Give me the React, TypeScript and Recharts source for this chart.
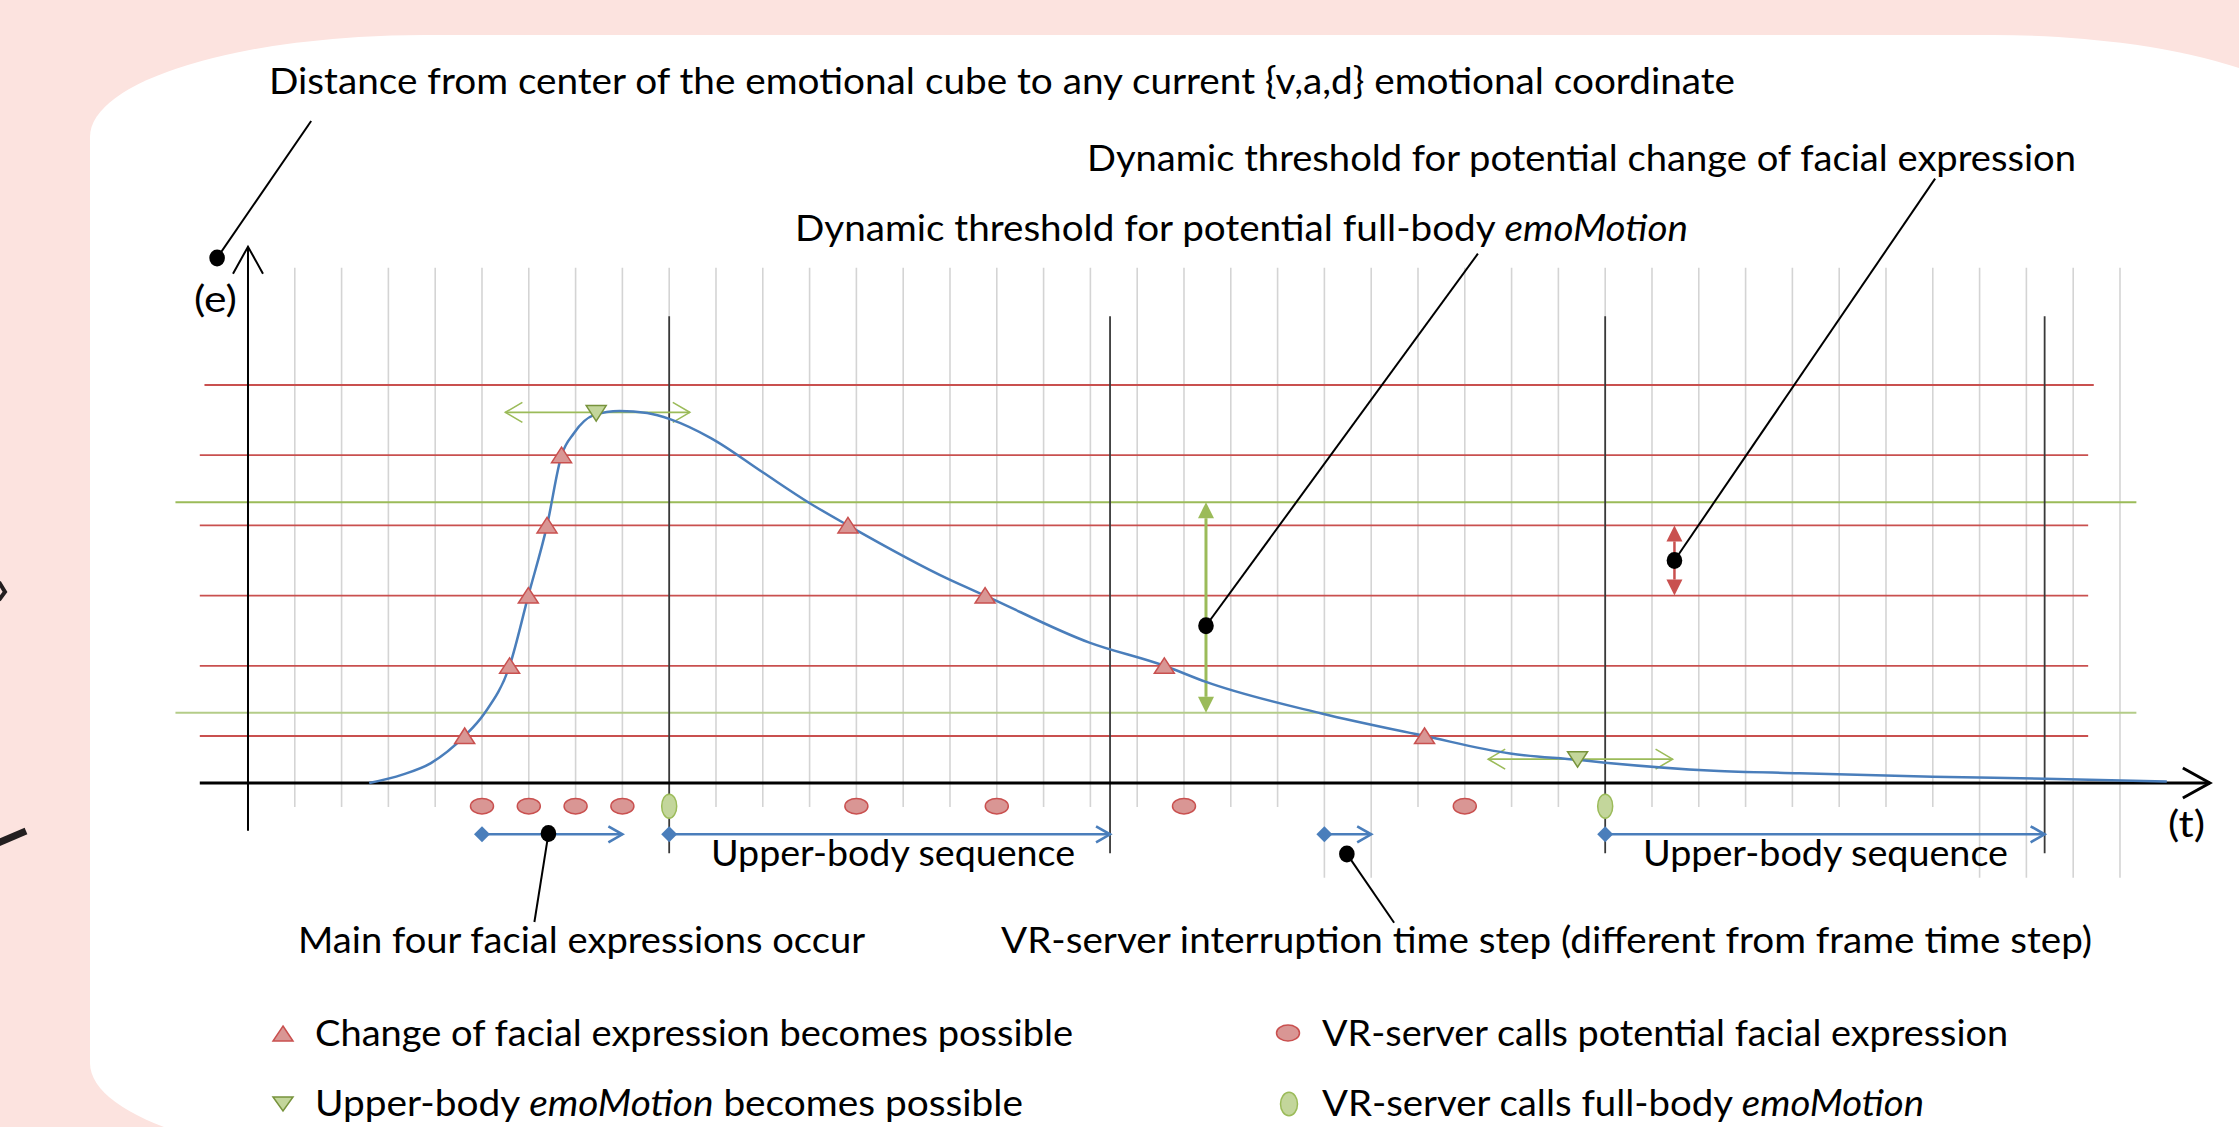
import React from 'react'
import { ComposedChart, XAxis, YAxis, Line, Scatter, ReferenceLine } from 'recharts'

const W = 2239
const H = 1127

// t = frame time step, e = distance from the centre of the emotional cube
const T_DOMAIN: [number, number] = [-5.299, 42.543]
const E_DOMAIN: [number, number] = [-4.9, 11.154]

const frameSteps = [1, 2, 3, 4, 5, 6, 7, 8, 9, 10, 11, 12, 13, 14, 15, 16, 17, 18, 19, 20,
  21, 22, 23, 24, 25, 26, 27, 28, 29, 30, 31, 32, 33, 34, 35, 36, 37, 38, 39, 40]
const longFrameSteps = [23, 24, 37, 38, 39, 40]
const sequenceBounds = [9, 18.42, 29, 38.39]
const faceThresholds = [0.67, 1.67, 2.67, 3.67, 4.67, 5.67]
const bodyThresholds = [1, 4]

const emotionCurve = [
  { t: 2.59, e: 0 }, { t: 3.3, e: 0.12 }, { t: 3.9, e: 0.28 }, { t: 4.63, e: 0.67 },
  { t: 5.05, e: 0.99 }, { t: 5.59, e: 1.67 }, { t: 5.99, e: 2.67 }, { t: 6.39, e: 3.67 },
  { t: 6.7, e: 4.67 }, { t: 6.96, e: 4.98 }, { t: 7.39, e: 5.24 }, { t: 7.94, e: 5.3 },
  { t: 8.53, e: 5.27 }, { t: 9.03, e: 5.18 }, { t: 9.9, e: 4.91 }, { t: 10.99, e: 4.43 },
  { t: 11.97, e: 4.0 }, { t: 12.82, e: 3.67 }, { t: 14.98, e: 2.9 }, { t: 15.75, e: 2.67 },
  { t: 17.98, e: 2.0 }, { t: 19.58, e: 1.67 }, { t: 20.47, e: 1.44 }, { t: 22.94, e: 0.99 },
  { t: 25.14, e: 0.67 }, { t: 26.97, e: 0.42 }, { t: 28.41, e: 0.33 }, { t: 29.0, e: 0.29 },
  { t: 31.32, e: 0.175 }, { t: 33.14, e: 0.14 }, { t: 36, e: 0.09 }, { t: 38.4, e: 0.06 },
  { t: 41.0, e: 0.02 },
]

const faceChanges = [
  { t: 4.63, e: 0.67 }, { t: 5.59, e: 1.67 }, { t: 5.99, e: 2.67 }, { t: 6.39, e: 3.67 },
  { t: 6.7, e: 4.67 }, { t: 12.82, e: 3.67 }, { t: 15.75, e: 2.67 }, { t: 19.58, e: 1.67 },
  { t: 25.14, e: 0.67 },
]
const bodyChanges = [{ t: 7.44, e: 5.27 }, { t: 28.41, e: 0.34 }]

const CALL_ROW = -0.33
const SEQ_ROW = -0.73
const faceCalls = [5, 6, 7, 8, 13, 16, 20, 26].map((t) => ({ t, e: CALL_ROW }))
const bodyCalls = [9, 29].map((t) => ({ t, e: CALL_ROW }))
const sequences = [[5, 8], [9, 18.42], [23, 24], [29, 38.39]]
const bodyWindows = [
  { from: 5.5, to: 9.44, e: 5.28 },
  { from: 26.5, to: 30.44, e: 0.34 },
]
const bodyRange = { t: 20.47, from: 1, to: 4 }
const faceRange = { t: 30.48, from: 2.67, to: 3.67 }

const callouts = [
  { dot: { t: -0.66, e: 7.48 }, end: { t: 1.35, e: 9.43 } },
  { dot: { t: 20.47, e: 2.24 }, end: { t: 26.28, e: 7.54 } },
  { dot: { t: 30.48, e: 3.17 }, end: { t: 36.05, e: 8.61 } },
  { dot: { t: 6.42, e: -0.72 }, end: { t: 6.12, e: -1.98 } },
  { dot: { t: 23.48, e: -1.01 }, end: { t: 24.49, e: -1.99 } },
]
const calloutDots = callouts.map((c) => c.dot)

const RED = '#c9504f'
const RED_FILL = '#d99694'
const GREEN = '#9bbb59'
const GREEN_PALE = '#b4cc88'
const GREEN_FILL = '#c3d69b'
const GREEN_DARK = '#77933c'
const BLUE = '#4a7ebb'
const GRID = '#d4d4d4'

type Head = 'none' | 'open' | 'solid' | 'diamond'
type HeadSpec = { kind: Head; len: number; half: number }

function head(x: number, y: number, ang: number, h: HeadSpec, color: string, sw: number) {
  const c = Math.cos(ang)
  const s = Math.sin(ang)
  if (h.kind === 'diamond') {
    const pts = [
      [x + (h.len / 2) * c, y + (h.len / 2) * s],
      [x - h.half * s, y + h.half * c],
      [x - (h.len / 2) * c, y - (h.len / 2) * s],
      [x + h.half * s, y - h.half * c],
    ]
    return <polygon points={pts.map((p) => p.join(',')).join(' ')} fill={color} />
  }
  const bx = x - h.len * c
  const by = y - h.len * s
  const p1 = `${bx - h.half * s},${by + h.half * c}`
  const p2 = `${bx + h.half * s},${by - h.half * c}`
  if (h.kind === 'open') {
    return <polyline points={`${p1} ${x},${y} ${p2}`} fill="none" stroke={color} strokeWidth={sw} />
  }
  if (h.kind === 'solid') return <polygon points={`${p1} ${x},${y} ${p2}`} fill={color} />
  return null
}

const NONE: HeadSpec = { kind: 'none', len: 0, half: 0 }

const arrowShape = (color: string, sw: number, start: HeadSpec, end: HeadSpec) => (p: any) => {
  const { x1, y1, x2, y2 } = p
  const ang = Math.atan2(y2 - y1, x2 - x1)
  const c = Math.cos(ang)
  const s = Math.sin(ang)
  const cutS = start.kind === 'solid' ? start.len : 0
  const cutE = end.kind === 'solid' ? end.len : 0
  return (
    <g>
      <line x1={x1 + cutS * c} y1={y1 + cutS * s} x2={x2 - cutE * c} y2={y2 - cutE * s}
        stroke={color} strokeWidth={sw} />
      {start.kind !== 'none' && head(x1, y1, ang + Math.PI, start, color, sw)}
      {end.kind !== 'none' && head(x2, y2, ang, end, color, sw)}
    </g>
  )
}

const plainLine = (color: string, sw: number) => arrowShape(color, sw, NONE, NONE)

const triUp = (p: any) => (
  <polygon points={`${p.cx},${p.cy - 8} ${p.cx + 10},${p.cy + 7.5} ${p.cx - 10},${p.cy + 7.5}`}
    fill={RED_FILL} stroke={RED} strokeWidth={1.5} />
)
const triDown = (p: any) => (
  <polygon points={`${p.cx - 10},${p.cy - 7.5} ${p.cx + 10},${p.cy - 7.5} ${p.cx},${p.cy + 8}`}
    fill={GREEN_FILL} stroke={GREEN_DARK} strokeWidth={1.5} />
)
const ovalFace = (p: any) => (
  <ellipse cx={p.cx} cy={p.cy} rx={11.5} ry={7.8} fill={RED_FILL} stroke={RED} strokeWidth={1.5} />
)
const ovalBody = (p: any) => (
  <ellipse cx={p.cx} cy={p.cy} rx={7.5} ry={12} fill={GREEN_FILL} stroke={GREEN} strokeWidth={1.5} />
)
const blackDot = (p: any) => <ellipse cx={p.cx} cy={p.cy} rx={7.8} ry={8.5} fill="#000" />

const FONT = 'Lato, "Open Sans", sans-serif'

function Txt({ x, y, len, children }: { x: number; y: number; len: number; children: React.ReactNode }) {
  return (
    <text x={x} y={y} textLength={len} lengthAdjust="spacingAndGlyphs" fontSize={36}
      fontFamily={FONT} fill="#000">
      {children}
    </text>
  )
}

function Overlay() {
  return (
    <svg width={W} height={H} style={{ position: 'absolute', left: 0, top: 0, pointerEvents: 'none' }}>
      <Txt x={269} y={94} len={1466}>Distance from center of the emotional cube to any current {'{v,a,d}'} emotional coordinate</Txt>
      <Txt x={1087} y={171} len={989}>Dynamic threshold for potential change of facial expression</Txt>
      <Txt x={795} y={241} len={893}>Dynamic threshold for potential full-body <tspan fontStyle="italic">emoMotion</tspan></Txt>
      <Txt x={194} y={312} len={43}>(e)</Txt>
      <Txt x={2168} y={837} len={37}>(t)</Txt>
      <Txt x={711} y={866} len={364}>Upper-body sequence</Txt>
      <Txt x={1643} y={866} len={365}>Upper-body sequence</Txt>
      <Txt x={298} y={953} len={567}>Main four facial expressions occur</Txt>
      <Txt x={1001} y={953} len={1091}>VR-server interruption time step (different from frame time step)</Txt>

      <polygon points="283,1026 293,1041 273,1041" fill={RED_FILL} stroke={RED} strokeWidth={1.5} />
      <Txt x={315} y={1046} len={758}>Change of facial expression becomes possible</Txt>
      <polygon points="273,1097 293,1097 283,1111" fill={GREEN_FILL} stroke={GREEN_DARK} strokeWidth={1.5} />
      <Txt x={315} y={1116} len={708}>Upper-body <tspan fontStyle="italic">emoMotion</tspan> becomes possible</Txt>
      <ellipse cx={1288} cy={1033} rx={11.5} ry={8} fill={RED_FILL} stroke={RED} strokeWidth={1.5} />
      <Txt x={1322} y={1046} len={686}>VR-server calls potential facial expression</Txt>
      <ellipse cx={1289} cy={1104} rx={8.5} ry={11.7} fill={GREEN_FILL} stroke={GREEN} strokeWidth={1.5} />
      <Txt x={1322} y={1116} len={602}>VR-server calls full-body <tspan fontStyle="italic">emoMotion</tspan></Txt>
    </svg>
  )
}

function Backdrop() {
  return (
    <svg width={W} height={H} style={{ position: 'absolute', left: 0, top: 0 }}>
      <rect x={0} y={0} width={W} height={H} fill="#fce3df" />
      <rect x={90} y={35} width={2237} height={1130} rx={334} ry={102} fill="#fff" />
      <polyline points="-1,582 5,592 -1,600" fill="none" stroke="#231f20" strokeWidth={4} />
      <line x1={-2} y1={843} x2={26} y2={831} stroke="#231f20" strokeWidth={7} />
    </svg>
  )
}

const openAxis: HeadSpec = { kind: 'open', len: 27, half: 15 }
const openGreen: HeadSpec = { kind: 'open', len: 17, half: 10 }
const solidHead: HeadSpec = { kind: 'solid', len: 16, half: 8 }
const seqStart: HeadSpec = { kind: 'diamond', len: 16, half: 8 }
const seqEnd: HeadSpec = { kind: 'open', len: 14, half: 8 }

export default function App() {
  return (
    <div style={{ position: 'absolute', left: 0, top: 0, width: W, height: H, overflow: 'hidden' }}>
      <Backdrop />
      <div style={{ position: 'absolute', left: 0, top: 0 }}>
        <ComposedChart width={W} height={H} margin={{ top: 0, right: 0, bottom: 0, left: 0 }}>
          <XAxis type="number" dataKey="t" domain={T_DOMAIN} allowDataOverflow hide />
          <YAxis type="number" dataKey="e" domain={E_DOMAIN} allowDataOverflow hide />

          {frameSteps.map((t) => (
            <ReferenceLine key={`g${t}`} ifOverflow="visible"
              segment={[{ x: t, y: 7.34 }, { x: t, y: longFrameSteps.includes(t) ? -1.35 : -0.34 }]}
              shape={plainLine(GRID, 1.6)} />
          ))}
          {faceThresholds.map((e, i) => (
            <ReferenceLine key={`r${e}`} ifOverflow="visible"
              segment={[{ x: i === 5 ? -0.93 : -1.03, y: e }, { x: i === 5 ? 39.44 : 39.32, y: e }]}
              shape={plainLine(RED, 1.8)} />
          ))}
          {bodyThresholds.map((e) => (
            <ReferenceLine key={`b${e}`} ifOverflow="visible"
              segment={[{ x: -1.55, y: e }, { x: 40.35, y: e }]}
              shape={plainLine(e === 4 ? GREEN : GREEN_PALE, 2)} />
          ))}
          {sequenceBounds.map((t) => (
            <ReferenceLine key={`s${t}`} ifOverflow="visible"
              segment={[{ x: t, y: 6.65 }, { x: t, y: -1.0 }]}
              shape={plainLine('#3a3a3a', 1.8)} />
          ))}

          <ReferenceLine ifOverflow="visible" segment={[{ x: -1.03, y: 0 }, { x: 41.92, y: 0 }]}
            shape={arrowShape('#000', 3, NONE, openAxis)} />
          <ReferenceLine ifOverflow="visible" segment={[{ x: 0, y: -0.68 }, { x: 0, y: 7.64 }]}
            shape={arrowShape('#000', 2, NONE, openAxis)} />

          {bodyWindows.map((w) => (
            <ReferenceLine key={`w${w.from}`} ifOverflow="visible"
              segment={[{ x: w.from, y: w.e }, { x: w.to, y: w.e }]}
              shape={arrowShape(GREEN, 1.6, openGreen, openGreen)} />
          ))}
          <ReferenceLine ifOverflow="visible"
            segment={[{ x: bodyRange.t, y: bodyRange.from }, { x: bodyRange.t, y: bodyRange.to }]}
            shape={arrowShape(GREEN, 3, solidHead, solidHead)} />
          <ReferenceLine ifOverflow="visible"
            segment={[{ x: faceRange.t, y: faceRange.from }, { x: faceRange.t, y: faceRange.to }]}
            shape={arrowShape(RED, 2.5, solidHead, solidHead)} />
          {sequences.map(([a, b]) => (
            <ReferenceLine key={`q${a}`} ifOverflow="visible"
              segment={[{ x: a, y: SEQ_ROW }, { x: b, y: SEQ_ROW }]}
              shape={arrowShape(BLUE, 2.6, seqStart, seqEnd)} />
          ))}
          {callouts.map((c, i) => (
            <ReferenceLine key={`c${i}`} ifOverflow="visible"
              segment={[{ x: c.dot.t, y: c.dot.e }, { x: c.end.t, y: c.end.e }]}
              shape={plainLine('#000', 2)} />
          ))}

          <Line data={emotionCurve} dataKey="e" type="monotone" stroke={BLUE} strokeWidth={2.5}
            dot={false} activeDot={false} isAnimationActive={false} />
          <Scatter data={faceChanges} dataKey="e" shape={triUp} isAnimationActive={false} />
          <Scatter data={bodyChanges} dataKey="e" shape={triDown} isAnimationActive={false} />
          <Scatter data={faceCalls} dataKey="e" shape={ovalFace} isAnimationActive={false} />
          <Scatter data={bodyCalls} dataKey="e" shape={ovalBody} isAnimationActive={false} />
          <Scatter data={calloutDots} dataKey="e" shape={blackDot} isAnimationActive={false} />
        </ComposedChart>
      </div>
      <Overlay />
    </div>
  )
}
